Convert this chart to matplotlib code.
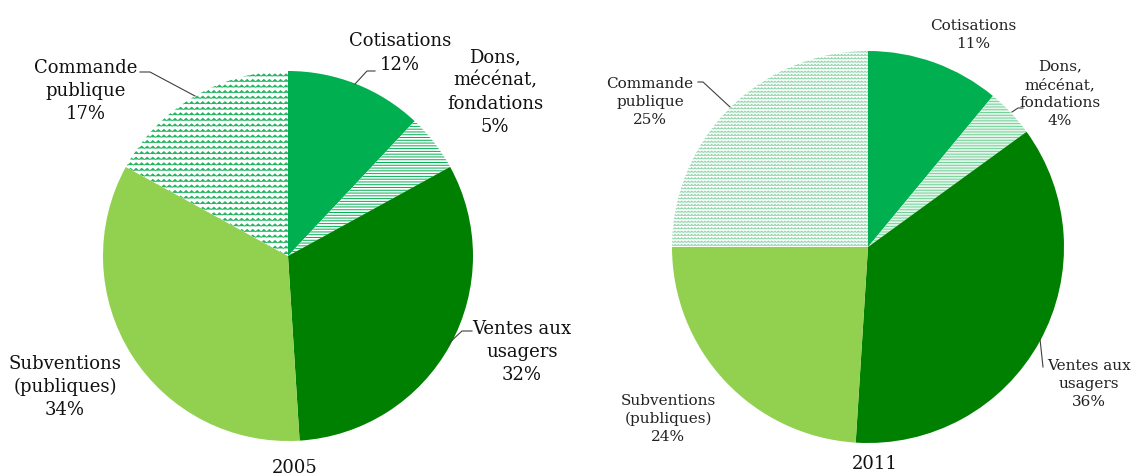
import numpy as np
import matplotlib
matplotlib.use("Agg")
import matplotlib.pyplot as plt
import matplotlib.hatch as mh
from matplotlib.path import Path

# ---------------- data ----------------
categories = ["Cotisations", "Dons, mécénat, fondations", "Ventes aux usagers",
              "Subventions (publiques)", "Commande publique"]
values_2005 = [12, 5, 32, 34, 17]
values_2011 = [11, 4, 36, 24, 25]
labels_2005 = ["Cotisations\n12%", "Dons,\nmécénat,\nfondations\n5%",
               "Ventes aux\nusagers\n32%", "Subventions\n(publiques)\n34%",
               "Commande\npublique\n17%"]
labels_2011 = ["Cotisations\n11%", "Dons,\nmécénat,\nfondations\n4%",
               "Ventes aux\nusagers\n36%", "Subventions\n(publiques)\n24%",
               "Commande\npublique\n25%"]
years = ["2005", "2011"]


# ---------------- custom zig-zag hatch (replaces '|') ----------------
class ZigZagHatch(mh.HatchPatternBase):
    def __init__(self, hatch, density):
        self.num_rows = int(hatch.count('|') * density)
        self.teeth = self.num_rows
        self.num_vertices = self.num_rows * (2 * self.teeth + 1) if self.num_rows else 0

    def set_vertices_and_codes(self, vertices, codes):
        n, t = self.num_rows, self.teeth
        ys = (np.arange(n) + 0.5) / n
        amp = 0.22 / n
        xs = np.linspace(0, 1, 2 * t + 1)
        offs = np.where(np.arange(2 * t + 1) % 2 == 0, -amp, amp)
        k = 0
        m = 2 * t + 1
        for y in ys:
            vertices[k:k + m, 0] = xs
            vertices[k:k + m, 1] = y + offs
            codes[k] = Path.MOVETO
            codes[k + 1:k + m] = Path.LINETO
            k += m


mh._hatch_types[1] = ZigZagHatch

plt.rcParams['hatch.linewidth'] = 0.6
plt.rcParams['font.family'] = ['DejaVu Serif']

W, H = 1135, 477
fig = plt.figure(figsize=(W / 100, H / 100), dpi=100)
ax = fig.add_axes([0, 0, 1, 1])

solid = ['#00B050', None, '#008000', '#92D050', None]


def draw_pie(values, center, radius, dons_style, cmd_style):
    wedges, _ = ax.pie(values, center=center, radius=radius, startangle=90,
                       counterclock=False, colors=[c or 'white' for c in solid],
                       wedgeprops=dict(linewidth=0), frame=True)
    for w, style in ((wedges[1], dons_style), (wedges[4], cmd_style)):
        face, hcol, hatch, hlw = style
        w.set_facecolor(face)
        w.set_edgecolor(hcol)
        w.set_linewidth(0)
        w.set_hatch(hatch)
        if hasattr(w, 'set_hatch_linewidth'):
            w.set_hatch_linewidth(hlw)
        elif hasattr(w, '_hatch_linewidth'):
            w._hatch_linewidth = hlw
    return wedges


draw_pie(values_2005, (288, H - 257), 185,
         ('white', '#00B050', '------', 0.7), ('white', '#1fb45e', '|||', 0.5))
draw_pie(values_2011, (868, H - 248), 196,
         ('#e4f6ea', '#6fd196', '------', 0.7), ('white', '#8fd6aa', '|||||', 0.55))

ax.set_xlim(0, W)
ax.set_ylim(0, H)
ax.set_aspect('auto')
ax.axis('off')

# ---------------- labels ----------------
pos_2005 = [(400, 53), (495, 92), (522, 352), (65, 387), (86, 91)]
pos_2011 = [(973, 35), (1060, 94), (1089, 384), (668, 419), (650, 102)]
for lab, (x, y) in zip(labels_2005, pos_2005):
    ax.text(x, H - y, lab, ha='center', va='center', fontsize=13,
            linespacing=1.37, color='#111111')
for lab, (x, y) in zip(labels_2011, pos_2011):
    ax.text(x, H - y, lab, ha='center', va='center', fontsize=11,
            linespacing=1.38, color='#222222')

ax.text(295, H - 468, years[0], ha='center', va='center', fontsize=13, color='#111111')
ax.text(875, H - 464, years[1], ha='center', va='center', fontsize=13, color='#111111')

# ---------------- leader lines ----------------
leaders = [
    [(140, 73), (150, 73), (195, 97)],
    [(375, 72), (367, 72), (355, 85)],
    [(472, 332), (462, 332), (448, 345)],
    [(698, 83), (703, 83), (730, 108)],
    [(1023, 109), (1018, 109), (1012, 113)],
    [(1040, 340), (1043, 368)],
]
for pts in leaders:
    xs = [p[0] for p in pts]
    ys = [H - p[1] for p in pts]
    ax.plot(xs, ys, color='#404040', lw=0.8)

fig.savefig("out.png", dpi=100)
